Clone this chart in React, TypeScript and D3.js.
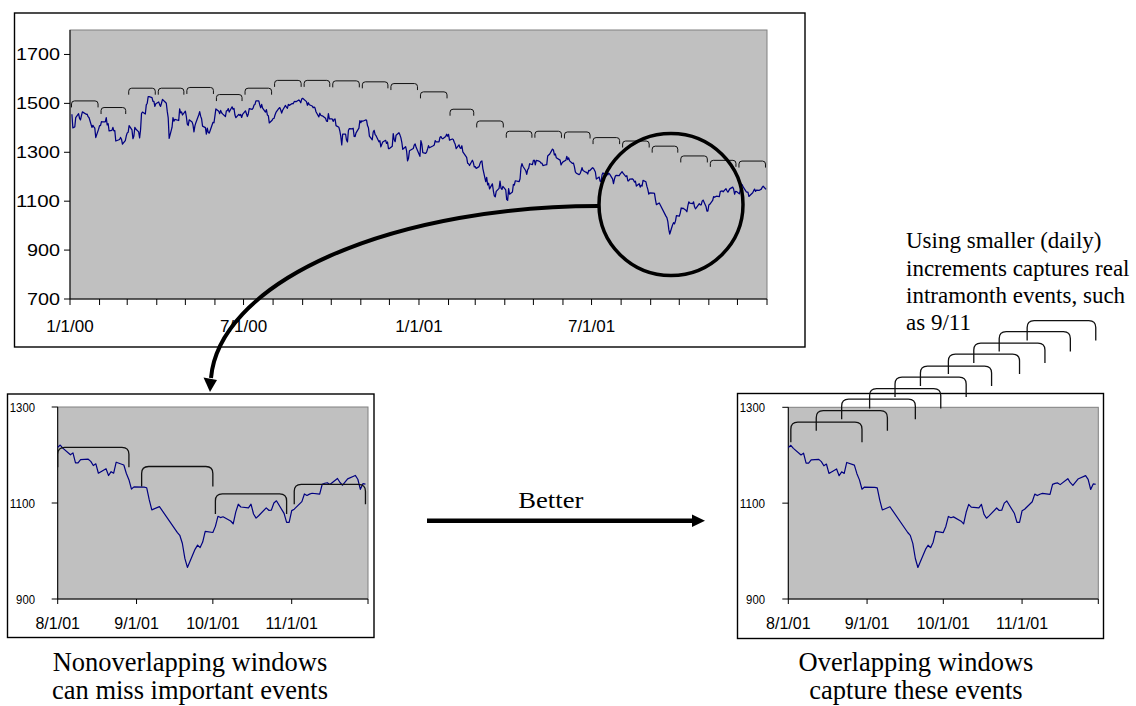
import React from "react";
import * as d3 from "d3";

// S&P 500 daily closes: [month, day, close]
type Close = [number, number, number];

const spx2000: Close[] = [
  [1,3,1455.22],[1,4,1399.42],[1,5,1402.11],[1,6,1403.45],[1,7,1441.47],[1,10,1457.60],[1,11,1438.56],[1,12,1432.25],[1,13,1449.68],[1,14,1465.15],[1,18,1455.14],[1,19,1455.90],[1,20,1445.57],[1,21,1441.36],[1,24,1401.53],[1,25,1410.03],[1,26,1404.09],[1,27,1398.56],[1,28,1360.16],[1,31,1394.46],
  [2,1,1409.28],[2,2,1409.12],[2,3,1424.97],[2,4,1424.37],[2,7,1424.24],[2,8,1441.72],[2,9,1411.71],[2,10,1416.83],[2,11,1387.12],[2,14,1389.94],[2,15,1402.05],[2,16,1387.67],[2,17,1388.26],[2,18,1346.09],[2,22,1352.17],[2,23,1360.69],[2,24,1353.43],[2,25,1333.36],[2,28,1348.05],[2,29,1366.42],
  [3,1,1379.19],[3,2,1381.76],[3,3,1409.17],[3,6,1391.28],[3,7,1355.62],[3,8,1366.70],[3,9,1401.69],[3,10,1395.07],[3,13,1383.62],[3,14,1359.15],[3,15,1392.14],[3,16,1458.47],[3,17,1464.47],[3,20,1456.63],[3,21,1493.87],[3,22,1500.64],[3,23,1527.35],[3,24,1527.46],[3,27,1523.86],[3,28,1507.73],[3,29,1508.52],[3,30,1487.92],[3,31,1498.58],
  [4,3,1505.97],[4,4,1494.73],[4,5,1487.37],[4,6,1501.34],[4,7,1516.35],[4,10,1504.46],[4,11,1500.59],[4,12,1467.17],[4,13,1440.51],[4,14,1356.56],[4,17,1401.44],[4,18,1441.61],[4,19,1427.47],[4,20,1434.54],[4,24,1429.86],[4,25,1477.44],[4,26,1460.99],[4,27,1464.92],[4,28,1452.43],
  [5,1,1468.25],[5,2,1446.29],[5,3,1415.10],[5,4,1409.57],[5,5,1432.63],[5,8,1424.17],[5,9,1412.14],[5,10,1383.05],[5,11,1407.81],[5,12,1420.96],[5,15,1452.36],[5,16,1466.04],[5,17,1447.80],[5,18,1437.21],[5,19,1406.95],[5,22,1400.72],[5,23,1373.86],[5,24,1399.05],[5,25,1381.52],[5,26,1378.02],[5,30,1422.45],[5,31,1420.60],
  [6,1,1448.81],[6,2,1477.26],[6,5,1467.63],[6,6,1457.84],[6,7,1471.36],[6,8,1461.67],[6,9,1456.95],[6,12,1446.00],[6,13,1469.44],[6,14,1470.54],[6,15,1478.73],[6,16,1464.46],[6,19,1486.00],[6,20,1475.95],[6,21,1479.13],[6,22,1452.18],[6,23,1441.48],[6,26,1455.31],[6,27,1450.55],[6,28,1454.82],[6,29,1442.39],[6,30,1454.60],
  [7,3,1469.54],[7,5,1446.23],[7,6,1456.67],[7,7,1478.90],[7,10,1475.62],[7,11,1480.88],[7,12,1492.92],[7,13,1495.84],[7,14,1509.98],[7,17,1510.49],[7,18,1493.74],[7,19,1481.96],[7,20,1495.57],[7,21,1480.19],[7,24,1464.29],[7,25,1474.47],[7,26,1452.42],[7,27,1449.62],[7,28,1419.89],[7,31,1430.83],
  [8,1,1438.10],[8,2,1438.70],[8,3,1452.56],[8,4,1462.93],[8,7,1479.32],[8,8,1482.80],[8,9,1472.87],[8,10,1460.25],[8,11,1471.84],[8,14,1491.56],[8,15,1484.43],[8,16,1479.85],[8,17,1496.07],[8,18,1491.72],[8,21,1499.48],[8,22,1498.13],[8,23,1505.97],[8,24,1508.31],[8,25,1506.45],[8,28,1514.09],[8,29,1509.84],[8,30,1502.59],[8,31,1517.68],
  [9,1,1520.77],[9,5,1507.08],[9,6,1492.25],[9,7,1502.51],[9,8,1494.50],[9,11,1489.26],[9,12,1481.99],[9,13,1484.91],[9,14,1480.87],[9,15,1465.81],[9,18,1444.51],[9,19,1459.90],[9,20,1451.34],[9,21,1449.05],[9,22,1448.72],[9,25,1439.03],[9,26,1427.21],[9,27,1426.57],[9,28,1458.29],[9,29,1436.51],
  [10,2,1436.23],[10,3,1426.46],[10,4,1434.32],[10,5,1436.28],[10,6,1408.99],[10,9,1402.03],[10,10,1387.02],[10,11,1364.59],[10,12,1329.78],[10,13,1374.17],[10,16,1374.62],[10,17,1349.97],[10,18,1342.13],[10,19,1388.76],[10,20,1396.93],[10,23,1395.78],[10,24,1398.13],[10,25,1364.90],[10,26,1364.44],[10,27,1379.58],[10,30,1398.66],[10,31,1429.40],
  [11,1,1421.22],[11,2,1428.32],[11,3,1426.69],[11,6,1432.19],[11,7,1431.87],[11,8,1409.28],[11,9,1400.14],[11,10,1365.98],[11,13,1351.26],[11,14,1382.95],[11,15,1389.81],[11,16,1372.32],[11,17,1367.72],[11,20,1342.62],[11,21,1347.35],[11,22,1322.36],[11,24,1341.77],[11,27,1348.97],[11,28,1336.09],[11,29,1341.93],[11,30,1314.95],
  [12,1,1315.23],[12,4,1324.97],[12,5,1376.54],[12,6,1351.46],[12,7,1343.55],[12,8,1369.89],[12,11,1380.20],[12,12,1371.18],[12,13,1359.99],[12,14,1340.93],[12,15,1312.15],[12,18,1322.74],[12,19,1305.60],[12,20,1264.74],[12,21,1274.86],[12,22,1305.95],[12,26,1315.19],[12,27,1328.92],[12,28,1334.22],[12,29,1320.28],
];

const spx2001: Close[] = [
  [1,2,1283.27],[1,3,1347.56],[1,4,1333.34],[1,5,1298.35],[1,8,1295.86],[1,9,1300.80],[1,10,1313.27],[1,11,1326.82],[1,12,1318.55],[1,16,1326.65],[1,17,1329.47],[1,18,1347.97],[1,19,1342.54],[1,22,1342.90],[1,23,1360.40],[1,24,1364.30],[1,25,1357.51],[1,26,1354.95],[1,29,1364.17],[1,30,1373.73],[1,31,1366.01],
  [2,1,1373.47],[2,2,1349.47],[2,5,1354.31],[2,6,1352.26],[2,7,1340.89],[2,8,1332.53],[2,9,1314.76],[2,12,1330.31],[2,13,1318.80],[2,14,1315.92],[2,15,1326.61],[2,16,1301.53],[2,20,1278.94],[2,21,1255.27],[2,22,1252.82],[2,23,1245.86],[2,26,1267.65],[2,27,1257.94],[2,28,1239.94],
  [3,1,1241.23],[3,2,1234.18],[3,5,1241.41],[3,6,1253.80],[3,7,1261.89],[3,8,1264.74],[3,9,1233.42],[3,12,1180.16],[3,13,1197.66],[3,14,1166.71],[3,15,1173.56],[3,16,1150.53],[3,19,1170.81],[3,20,1142.62],[3,21,1122.14],[3,22,1117.58],[3,23,1139.83],[3,26,1152.69],[3,27,1182.17],[3,28,1153.29],[3,29,1147.95],[3,30,1160.33],
  [4,2,1145.87],[4,3,1106.46],[4,4,1103.25],[4,5,1151.44],[4,6,1128.43],[4,9,1137.59],[4,10,1168.38],[4,11,1165.89],[4,12,1183.50],[4,16,1179.68],[4,17,1191.81],[4,18,1238.16],[4,19,1253.69],[4,20,1242.98],[4,23,1224.36],[4,24,1209.47],[4,25,1228.75],[4,26,1234.52],[4,27,1253.05],[4,30,1249.46],
  [5,1,1266.44],[5,2,1267.43],[5,3,1248.58],[5,4,1266.61],[5,7,1263.51],[5,8,1261.20],[5,9,1255.54],[5,10,1255.18],[5,11,1245.67],[5,14,1248.92],[5,15,1249.44],[5,16,1284.99],[5,17,1288.49],[5,18,1291.96],[5,21,1312.83],[5,22,1309.38],[5,23,1289.05],[5,24,1293.17],[5,25,1277.89],[5,29,1267.93],[5,30,1248.08],[5,31,1255.82],
  [6,1,1260.67],[6,4,1267.11],[6,5,1283.57],[6,6,1270.03],[6,7,1276.96],[6,8,1264.96],[6,11,1254.39],[6,12,1255.85],[6,13,1241.60],[6,14,1219.87],[6,15,1214.36],[6,18,1208.43],[6,19,1212.58],[6,20,1223.14],[6,21,1237.04],[6,22,1225.35],[6,25,1218.60],[6,26,1216.76],[6,27,1211.07],[6,28,1226.20],[6,29,1224.38],
  [7,2,1236.72],[7,3,1234.45],[7,5,1219.24],[7,6,1190.59],[7,9,1198.78],[7,10,1181.52],[7,11,1180.18],[7,12,1208.14],[7,13,1215.68],[7,16,1202.45],[7,17,1214.44],[7,18,1207.71],[7,19,1215.02],[7,20,1210.85],[7,23,1191.03],[7,24,1171.65],[7,25,1190.49],[7,26,1202.93],[7,27,1205.82],[7,30,1204.52],[7,31,1211.23],
  [8,1,1215.93],[8,2,1220.75],[8,3,1214.35],[8,6,1200.48],[8,7,1204.40],[8,8,1183.53],[8,9,1183.43],[8,10,1190.16],[8,13,1191.29],[8,14,1186.73],[8,15,1178.02],[8,16,1181.66],[8,17,1161.97],[8,20,1171.41],[8,21,1157.26],[8,22,1165.31],[8,23,1162.09],[8,24,1184.93],[8,27,1179.21],[8,28,1161.51],[8,29,1148.56],[8,30,1129.03],[8,31,1133.58],
  [9,4,1132.94],[9,5,1131.74],[9,6,1106.40],[9,7,1085.78],[9,10,1092.54],[9,17,1038.77],[9,18,1032.74],[9,19,1016.10],[9,20,984.54],[9,21,965.80],[9,24,1003.45],[9,25,1012.27],[9,26,1007.04],[9,27,1018.61],[9,28,1040.94],
  [10,1,1038.55],[10,2,1051.33],[10,3,1072.28],[10,4,1069.63],[10,5,1071.38],[10,8,1062.44],[10,9,1056.75],[10,10,1080.99],[10,11,1097.43],[10,12,1091.65],[10,15,1089.98],[10,16,1097.54],[10,17,1077.09],[10,18,1068.61],[10,19,1073.48],[10,22,1089.90],[10,23,1084.78],[10,24,1085.20],[10,25,1100.09],[10,26,1104.61],[10,29,1078.30],[10,30,1059.79],[10,31,1059.78],
  [11,1,1084.10],[11,2,1087.20],[11,5,1102.84],[11,6,1118.86],[11,7,1115.80],[11,8,1118.54],[11,9,1120.31],[11,12,1118.33],[11,13,1139.09],[11,14,1141.21],[11,15,1142.24],[11,16,1138.65],[11,19,1151.06],[11,20,1142.66],[11,21,1137.03],[11,23,1150.34],[11,26,1157.42],[11,27,1149.50],[11,28,1128.52],[11,29,1140.20],[11,30,1139.45],
  [12,3,1129.90],[12,4,1144.80],[12,5,1170.35],[12,6,1167.10],[12,7,1158.31],[12,10,1139.93],[12,11,1136.76],[12,12,1137.07],[12,13,1119.38],[12,14,1123.09],[12,17,1134.36],[12,18,1142.92],[12,19,1149.56],[12,20,1139.93],[12,21,1144.89],[12,24,1144.65],[12,26,1149.37],[12,27,1157.13],[12,28,1161.02],[12,31,1148.08],
];

// Overview chart axes
const overviewYTicks = [700, 900, 1100, 1300, 1500, 1700];
const overviewXLabelDates = ["2000-01-01", "2000-07-01", "2001-01-01", "2001-07-01"];
// Level (index points) of each monthly window bracket, Jan 2000 .. Dec 2001
const overviewWindowLevels = [
  1510, 1483, 1562, 1562, 1565, 1536, 1562, 1594, 1594, 1592, 1588, 1581,
  1547, 1476, 1428, 1386, 1386, 1383, 1360, 1346, 1325, 1285, 1267, 1264,
];

// Detail charts (Aug-Nov 2001)
const detailYTicks = [900, 1100, 1300];
const detailXLabelDates = ["2001-08-01", "2001-09-01", "2001-10-01", "2001-11-01"];

// Non-overlapping monthly windows
const monthlyWindowStarts = ["2001-08-01", "2001-09-03", "2001-10-02", "2001-11-02"];
const monthlyWindowEnds = ["2001-08-29", "2001-10-01", "2001-10-30", "2001-11-30"];
const monthlyWindowLevels = [1216, 1176, 1119, 1139];

// Overlapping rolling windows
const rollingWindowStarts = [
  "2001-08-02", "2001-08-12", "2001-08-22", "2001-09-02", "2001-09-12",
  "2001-09-22", "2001-10-03", "2001-10-13", "2001-10-23", "2001-11-03",
];
const rollingWindowEnds = [
  "2001-08-30", "2001-09-09", "2001-09-20", "2001-09-30", "2001-10-10",
  "2001-10-20", "2001-10-31", "2001-11-10", "2001-11-20", "2001-11-30",
];
const rollingWindowLevels = [1269, 1293, 1317, 1339, 1363, 1386, 1411, 1434, 1458, 1481];

const noteLines = [
  "Using smaller (daily)",
  "increments captures real",
  "intramonth events, such",
  "as 9/11",
];
const leftCaption = ["Nonoverlapping windows", "can miss important events"];
const rightCaption = ["Overlapping windows", "capture these events"];
const arrowLabel = "Better";

const SANS = "'Liberation Sans', Arial, sans-serif";
const SERIF = "'Liberation Serif', 'Times New Roman', serif";
const LINE_COLOR = "#000080";
const PLOT_FILL = "#c0c0c0";

type Point = { date: Date; close: number };

const parseDate = d3.timeParse("%Y-%m-%d");
const fmtDate = d3.timeFormat("%-m/%-d/%y");

const series: Point[] = [
  ...spx2000.map(([m, d, c]) => ({ date: new Date(2000, m - 1, d), close: c })),
  ...spx2001.map(([m, d, c]) => ({ date: new Date(2001, m - 1, d), close: c })),
];

function bracketPath(x0: number, x1: number, yTop: number, drop: number, r: number) {
  return (
    `M${x0},${yTop + drop} L${x0},${yTop + r} Q${x0},${yTop} ${x0 + r},${yTop} ` +
    `L${x1 - r},${yTop} Q${x1},${yTop} ${x1},${yTop + r} L${x1},${yTop + drop}`
  );
}

function Overview() {
  const left = 70, right = 767, top = 30, bottom = 299;
  const start = new Date(2000, 0, 1);
  const end = new Date(2002, 0, 1);
  const x = d3.scaleTime().domain([start, end]).range([left, right]);
  const y = d3.scaleLinear().domain([700, 1800]).range([bottom, top]);
  const line = d3.line<Point>().x((p) => x(p.date)).y((p) => y(p.close));
  const monthTicks = d3.timeMonth.range(start, d3.timeDay.offset(end, 1));

  return (
    <g>
      <rect x={14.5} y={13} width={790.5} height={334} fill="#fff" stroke="#000" strokeWidth={1.4} />
      <rect x={left} y={top} width={right - left} height={bottom - top} fill={PLOT_FILL} stroke="#808080" strokeWidth={1} />
      {/* axes */}
      <line x1={left} x2={left} y1={top} y2={bottom} stroke="#000" strokeWidth={1} />
      <line x1={left} x2={right} y1={bottom} y2={bottom} stroke="#000" strokeWidth={1} />
      {overviewYTicks.map((v) => (
        <g key={v}>
          <line x1={left - 6} x2={left} y1={y(v)} y2={y(v)} stroke="#000" />
          <text
            x={60}
            y={y(v)}
            dy="0.36em"
            textAnchor="end"
            fontFamily={SANS}
            fontSize={16}
            textLength={String(v).length * 11}
            lengthAdjust="spacingAndGlyphs"
            fill="#000"
          >
            {v}
          </text>
        </g>
      ))}
      {monthTicks.map((d, i) => (
        <line key={i} x1={x(d)} x2={x(d)} y1={bottom} y2={bottom + 6} stroke="#000" />
      ))}
      {overviewXLabelDates.map((s) => {
        const d = parseDate(s)!;
        return (
          <text key={s} x={x(d)} y={332} textAnchor="middle" fontFamily={SANS} fontSize={17} fill="#000">
            {fmtDate(d)}
          </text>
        );
      })}
      <path d={line(series) ?? ""} fill="none" stroke={LINE_COLOR} strokeWidth={1.25} strokeLinejoin="round" />
      {overviewWindowLevels.map((lvl, i) => {
        const m0 = d3.timeMonth.offset(start, i);
        const m1 = d3.timeMonth.offset(start, i + 1);
        return (
          <path
            key={i}
            d={bracketPath(x(m0) + 1.5, x(m1) - 1.5, y(lvl), 6.5, 3)}
            fill="none"
            stroke="#111"
            strokeWidth={1}
          />
        );
      })}
    </g>
  );
}

type DetailProps = {
  frame: { x: number; y: number; w: number; h: number };
  plot: { left: number; right: number; top: number; bottom: number };
  labelRight: number;
  starts: string[];
  ends: string[];
  levels: number[];
};

function DetailChart({ frame, plot, labelRight, starts, ends, levels }: DetailProps) {
  const d0 = new Date(2001, 7, 1);
  const d1 = new Date(2001, 11, 1);
  const x = d3.scaleTime().domain([d0, d1]).range([plot.left, plot.right]);
  const y = d3.scaleLinear().domain([900, 1300]).range([plot.bottom, plot.top]);
  const data = series.filter((p) => p.date >= d0 && p.date < d1);
  const line = d3.line<Point>().x((p) => x(p.date)).y((p) => y(p.close));
  const monthTicks = d3.timeMonth.range(d0, d3.timeDay.offset(d1, 1));

  return (
    <g>
      <rect x={frame.x} y={frame.y} width={frame.w} height={frame.h} fill="#fff" stroke="#000" strokeWidth={1.4} />
      <rect
        x={plot.left}
        y={plot.top}
        width={plot.right - plot.left}
        height={plot.bottom - plot.top}
        fill={PLOT_FILL}
        stroke="#808080"
        strokeWidth={1}
      />
      <line x1={plot.left} x2={plot.left} y1={plot.top} y2={plot.bottom} stroke="#000" />
      <line x1={plot.left} x2={plot.right} y1={plot.bottom} y2={plot.bottom} stroke="#000" />
      {detailYTicks.map((v) => (
        <g key={v}>
          <line x1={plot.left - 6} x2={plot.left} y1={y(v)} y2={y(v)} stroke="#000" />
          <text
            x={labelRight}
            y={y(v)}
            dy="0.36em"
            textAnchor="end"
            fontFamily={SANS}
            fontSize={13}
            textLength={String(v).length * 6.3}
            lengthAdjust="spacingAndGlyphs"
            fill="#000"
          >
            {v}
          </text>
        </g>
      ))}
      {monthTicks.map((d, i) => (
        <line key={i} x1={x(d)} x2={x(d)} y1={plot.bottom} y2={plot.bottom + 5} stroke="#000" />
      ))}
      {detailXLabelDates.map((s) => {
        const d = parseDate(s)!;
        return (
          <text key={s} x={x(d)} y={628.5} textAnchor="middle" fontFamily={SANS} fontSize={16} fill="#000">
            {fmtDate(d)}
          </text>
        );
      })}
      <path d={line(data) ?? ""} fill="none" stroke={LINE_COLOR} strokeWidth={1.2} strokeLinejoin="round" />
      {levels.map((lvl, i) => (
        <path
          key={i}
          d={bracketPath(x(parseDate(starts[i])!), x(parseDate(ends[i])!), y(lvl), 20, 7)}
          fill="none"
          stroke="#111"
          strokeWidth={1.3}
        />
      ))}
    </g>
  );
}

export default function App() {
  return (
    <svg
      width={1136}
      height={706}
      viewBox="0 0 1136 706"
      style={{ position: "absolute", left: 0, top: 0, display: "block", background: "#fff" }}
    >
      <rect x={0} y={0} width={1136} height={706} fill="#fff" />
      <Overview />
      <DetailChart
        frame={{ x: 7.5, y: 394, w: 366.5, h: 243.5 }}
        plot={{ left: 57.7, right: 368, top: 407, bottom: 599 }}
        labelRight={35}
        starts={monthlyWindowStarts}
        ends={monthlyWindowEnds}
        levels={monthlyWindowLevels}
      />
      <DetailChart
        frame={{ x: 737.5, y: 393.5, w: 366, h: 245 }}
        plot={{ left: 788.3, right: 1098.3, top: 407.3, bottom: 599 }}
        labelRight={765}
        starts={rollingWindowStarts}
        ends={rollingWindowEnds}
        levels={rollingWindowLevels}
      />

      {/* highlight of the autumn 2001 drop */}
      <ellipse cx={671} cy={204.5} rx={72} ry={71} fill="none" stroke="#000" strokeWidth={3.5} />
      <path d="M 599 206 A 388 179 0 0 0 211 378" fill="none" stroke="#000" strokeWidth={4} />
      <polygon points="203.5,377.5 217,380 210,392" fill="#000" />

      {/* comparison arrow */}
      <line x1={427} x2={694} y1={520.7} y2={520.7} stroke="#000" strokeWidth={4.5} />
      <polygon points="692,514.5 705,520.7 692,527" fill="#000" />
      <text
        x={550.8}
        y={508.3}
        textAnchor="middle"
        fontFamily={SERIF}
        fontSize={24}
        textLength={65}
        lengthAdjust="spacingAndGlyphs"
        fill="#000"
      >
        {arrowLabel}
      </text>

      {noteLines.map((t, i) => (
        <text key={t} x={906} y={248.3 + i * 27.2} fontFamily={SERIF} fontSize={23} fill="#000">
          {t}
        </text>
      ))}
      {leftCaption.map((t, i) => (
        <text key={t} x={190} y={671 + i * 28} textAnchor="middle" fontFamily={SERIF} fontSize={26.5} fill="#000">
          {t}
        </text>
      ))}
      {rightCaption.map((t, i) => (
        <text key={t} x={916} y={671 + i * 28} textAnchor="middle" fontFamily={SERIF} fontSize={26.5} fill="#000">
          {t}
        </text>
      ))}
    </svg>
  );
}
